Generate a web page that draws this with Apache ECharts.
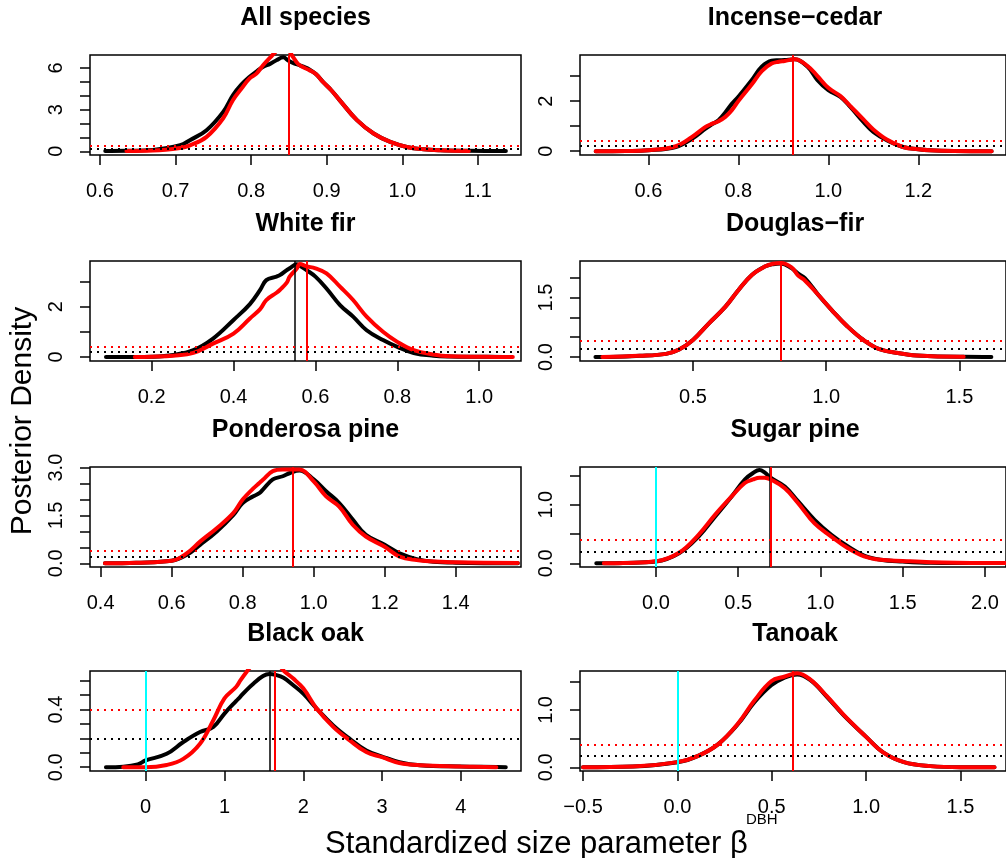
<!DOCTYPE html>
<html>
<head>
<meta charset="utf-8">
<script src="https://cdn.jsdelivr.net/npm/echarts@6/dist/echarts.min.js"></script>
<style>
	html, body { margin: 0; padding: 0; background: #fff; }
	#chart { width: 1006px; height: 858px; }
</style>
</head>
<body>
<div id="chart"></div>
<script>
// All species
let allX = [0.607, 0.635, 0.67, 0.706, 0.719, 0.741, 0.763, 0.776, 0.787, 0.798, 0.807, 0.816, 0.825, 0.834, 0.8425, 0.849, 0.856, 0.862, 0.869, 0.877, 0.886, 0.895, 0.906, 0.917, 0.94, 0.962, 0.984, 1.006, 1.028, 1.05, 1.088, 1.11, 1.137]
let allBlack = [0.02, 0.03, 0.1, 0.43, 0.8, 1.52, 2.84, 4.05, 4.8, 5.37, 5.75, 6.1, 6.3, 6.58, 6.77, 6.55, 6.35, 6.25, 6.1, 5.9, 5.55, 5.0, 4.4, 3.69, 2.24, 1.28, 0.67, 0.31, 0.14, 0.07, 0.03, 0.02, 0.02]
let allRed = [null, 0.02, 0.05, 0.24, 0.43, 1.04, 2.38, 3.7, 4.5, 5.25, 5.6, 6.22, 6.75, 7.25, 7.6, 7.3, 6.75, 6.3, 6.05, 5.85, 5.55, 5.0, 4.4, 3.69, 2.24, 1.28, 0.67, 0.31, 0.14, 0.07, 0.02, null, null]

// Incense-cedar
let cedarX = [0.483, 0.55, 0.60, 0.661, 0.697, 0.727, 0.742, 0.756, 0.771, 0.786, 0.80, 0.83, 0.852, 0.874, 0.89, 0.903, 0.925, 0.954, 0.976, 1.0, 1.027, 1.049, 1.078, 1.10, 1.13, 1.166, 1.20, 1.225, 1.28, 1.363]
let cedarBlack = [0.0, 0.01, 0.04, 0.17, 0.5, 0.9, 1.08, 1.24, 1.55, 1.9, 2.17, 2.84, 3.37, 3.61, 3.63, 3.64, 3.67, 3.37, 2.84, 2.44, 2.17, 1.77, 1.17, 0.77, 0.44, 0.17, 0.08, 0.04, 0.01, 0.0]
let cedarRed = [0.0, 0.01, 0.04, 0.2, 0.57, 0.97, 1.1, 1.2, 1.37, 1.65, 2.0, 2.67, 3.2, 3.5, 3.57, 3.6, 3.67, 3.4, 3.0, 2.53, 2.2, 1.8, 1.27, 0.87, 0.47, 0.17, 0.08, 0.04, 0.01, 0.0]

// White fir
let firX = [0.0885, 0.159, 0.2, 0.253, 0.302, 0.35, 0.40, 0.44, 0.465, 0.48, 0.505, 0.513, 0.53, 0.537, 0.554, 0.562, 0.578, 0.60, 0.627, 0.66, 0.692, 0.725, 0.765, 0.80, 0.84, 0.888, 0.928, 1.0, 1.06, 1.082]
let firBlack = [0.0, 0.0, 0.01, 0.08, 0.27, 0.73, 1.47, 2.1, 2.66, 3.05, 3.19, 3.25, 3.45, 3.52, 3.68, 3.62, 3.45, 3.19, 2.72, 2.06, 1.6, 1.06, 0.67, 0.4, 0.16, 0.05, 0.02, 0.01, 0.0, null]
let firRed = [null, 0.0, 0.01, 0.05, 0.16, 0.53, 0.93, 1.53, 1.9, 2.26, 2.55, 2.66, 2.95, 3.19, 3.5, 3.69, 3.6, 3.52, 3.32, 2.79, 2.26, 1.6, 1.0, 0.6, 0.27, 0.1, 0.03, 0.01, 0.0, 0.0]

// Douglas-fir
let dfX = [0.134, 0.16, 0.3, 0.399, 0.448, 0.50, 0.56, 0.622, 0.671, 0.721, 0.77, 0.80, 0.83, 0.87, 0.895, 0.92, 0.97, 1.02, 1.08, 1.14, 1.20, 1.27, 1.34, 1.50, 1.516, 1.62]
let dfBlack = [0.0, 0.0, 0.03, 0.08, 0.19, 0.43, 0.85, 1.27, 1.69, 2.07, 2.28, 2.34, 2.36, 2.24, 2.1, 1.99, 1.57, 1.19, 0.77, 0.43, 0.2, 0.1, 0.04, 0.01, 0.01, 0.0]
let dfRed = [null, 0.0, 0.03, 0.08, 0.19, 0.43, 0.85, 1.27, 1.69, 2.07, 2.28, 2.35, 2.37, 2.26, 2.05, 1.93, 1.57, 1.19, 0.77, 0.43, 0.2, 0.1, 0.04, 0.01, 0.01, null]

// Ponderosa pine
let ppX = [0.412, 0.50, 0.60, 0.642, 0.68, 0.727, 0.774, 0.80, 0.83, 0.847, 0.857, 0.885, 0.913, 0.935, 0.96, 1.0, 1.035, 1.072, 1.11, 1.147, 1.20, 1.242, 1.29, 1.337, 1.40, 1.575]
let ppBlack = [0.0, 0.02, 0.08, 0.26, 0.58, 1.0, 1.52, 1.89, 2.1, 2.2, 2.31, 2.63, 2.73, 2.84, 2.91, 2.63, 2.26, 1.89, 1.37, 0.89, 0.58, 0.31, 0.13, 0.05, 0.02, 0.0]
let ppRed = [0.0, 0.02, 0.08, 0.31, 0.68, 1.1, 1.58, 2.0, 2.35, 2.52, 2.62, 2.89, 2.94, 2.94, 2.94, 2.57, 2.1, 1.78, 1.21, 0.84, 0.52, 0.21, 0.1, 0.06, 0.03, 0.01]

// Sugar pine
let spX = [-0.363, -0.317, -0.2, 0.0, 0.14, 0.26, 0.36, 0.46, 0.54, 0.59, 0.629, 0.66, 0.697, 0.783, 0.863, 0.964, 1.064, 1.165, 1.265, 1.365, 1.50, 1.67, 2.0, 2.2]
let spBlack = [0.0, 0.0, 0.005, 0.03, 0.17, 0.46, 0.8, 1.14, 1.43, 1.54, 1.59, 1.55, 1.46, 1.31, 1.06, 0.74, 0.49, 0.29, 0.13, 0.06, 0.03, 0.01, 0.005, null]
let spRed = [null, 0.0, 0.006, 0.034, 0.18, 0.49, 0.83, 1.14, 1.37, 1.43, 1.46, 1.46, 1.43, 1.28, 1.03, 0.68, 0.46, 0.26, 0.12, 0.06, 0.04, 0.02, 0.005, 0.003]

// Black oak
let boX = [-0.504, -0.284, -0.1, 0.0, 0.267, 0.478, 0.69, 0.859, 1.0, 1.15, 1.2, 1.28, 1.37, 1.49, 1.57, 1.65, 1.75, 1.87, 2.0, 2.17, 2.38, 2.59, 2.8, 3.0, 3.22, 3.48, 4.0, 4.45, 4.57]
let boBlack = [0.0, 0.004, 0.02, 0.047, 0.093, 0.175, 0.244, 0.279, 0.372, 0.46, 0.488, 0.535, 0.581, 0.632, 0.646, 0.64, 0.62, 0.57, 0.51, 0.407, 0.29, 0.197, 0.116, 0.074, 0.035, 0.014, 0.005, 0.002, 0.0]
let boRed = [null, 0.0, 0.0, 0.0, 0.016, 0.058, 0.163, 0.326, 0.477, 0.558, 0.6, 0.66, 0.72, 0.77, 0.77, 0.74, 0.67, 0.616, 0.547, 0.407, 0.28, 0.186, 0.105, 0.07, 0.03, 0.014, 0.005, 0.0, null]

// Tanoak
let toX = [-0.5, -0.236, 0.0, 0.11, 0.215, 0.32, 0.407, 0.497, 0.565, 0.635, 0.705, 0.792, 0.88, 1.0, 1.09, 1.2, 1.34, 1.5, 1.68]
let toBlack = [0.0, 0.012, 0.087, 0.2, 0.4, 0.75, 1.13, 1.43, 1.56, 1.62, 1.52, 1.23, 0.91, 0.53, 0.26, 0.09, 0.02, 0.0, 0.0]
let toRed = [0.0, 0.012, 0.09, 0.2, 0.4, 0.76, 1.16, 1.5, 1.58, 1.64, 1.53, 1.24, 0.92, 0.53, 0.26, 0.09, 0.02, 0.0, 0.0]

// tick positions and labelled ticks
let allXTicks = [0.6, 0.7, 0.8, 0.9, 1.0, 1.1]
let cedarXTicks = [0.6, 0.8, 1.0, 1.2]
let firXTicks = [0.2, 0.4, 0.6, 0.8, 1.0]
let dfXTicks = [0.5, 1.0, 1.5]
let ppXTicks = [0.4, 0.6, 0.8, 1.0, 1.2, 1.4]
let spXTicks = [0.0, 0.5, 1.0, 1.5, 2.0]
let boXTicks = [0, 1, 2, 3, 4]
let toXTicks = [-0.5, 0.0, 0.5, 1.0, 1.5]

let allYTicks = [0, 1, 2, 3, 4, 5, 6], allYLabels = [0, 3, 6]
let cedarYTicks = [0, 1, 2, 3], cedarYLabels = [0, 2]
let firYTicks = [0, 1, 2, 3], firYLabels = [0, 2]
let dfYTicks = [0, 0.5, 1, 1.5, 2], dfYLabels = [0, 1.5]
let ppYTicks = [0, 0.5, 1, 1.5, 2, 2.5, 3], ppYLabels = [0, 1.5, 3]
let spYTicks = [0, 0.5, 1, 1.5], spYLabels = [0, 1]
let boYTicks = [0, 0.1, 0.2, 0.3, 0.4, 0.5, 0.6], boYLabels = [0, 0.4]
let toYTicks = [0, 0.5, 1, 1.5], toYLabels = [0, 1]

// posterior means (black, red) and the prior reference lines
let meanBlack = [0.8478, 0.9165, 0.5546, 0.83, 0.936, 0.69, 1.569, 0.61]
let meanRed = [0.8527, 0.919, 0.585, 0.83, 0.936, 0.696, 1.637, 0.61]
let hasZeroLine = [false, false, false, false, false, true, true, true]
let priorBlack = 0.2
let priorRed = 0.4

let font = "'Liberation Sans', Arial, Helvetica, sans-serif"

let panels = [
	{ title: "All species", x: allX, black: allBlack, red: allRed, xt: allXTicks, yt: allYTicks, yl: allYLabels, xlim: [0.5868, 1.157], ylim: [-0.27, 6.94], yd: 0 },
	{ title: "Incense\u2212cedar", x: cedarX, black: cedarBlack, red: cedarRed, xt: cedarXTicks, yt: cedarYTicks, yl: cedarYLabels, xlim: [0.448, 1.395], ylim: [-0.15, 3.84], yd: 0 },
	{ title: "White fir", x: firX, black: firBlack, red: firRed, xt: firXTicks, yt: firYTicks, yl: firYLabels, xlim: [0.0495, 1.102], ylim: [-0.16, 3.81], yd: 0 },
	{ title: "Douglas\u2212fir", x: dfX, black: dfBlack, red: dfRed, xt: dfXTicks, yt: dfYTicks, yl: dfYLabels, xlim: [0.076, 1.675], ylim: [-0.1, 2.42], yd: 1 },
	{ title: "Ponderosa pine", x: ppX, black: ppBlack, red: ppRed, xt: ppXTicks, yt: ppYTicks, yl: ppYLabels, xlim: [0.37, 1.584], ylim: [-0.116, 3.02], yd: 1 },
	{ title: "Sugar pine", x: spX, black: spBlack, red: spRed, xt: spXTicks, yt: spYTicks, yl: spYLabels, xlim: [-0.462, 2.128], ylim: [-0.063, 1.643], yd: 1 },
	{ title: "Black oak", x: boX, black: boBlack, red: boRed, xt: boXTicks, yt: boYTicks, yl: boYLabels, xlim: [-0.706, 4.763], ylim: [-0.026, 0.667], yd: 1 },
	{ title: "Tanoak", x: toX, black: toBlack, red: toRed, xt: toXTicks, yt: toYTicks, yl: toYLabels, xlim: [-0.516, 1.741], ylim: [-0.065, 1.68], yd: 1 }
]

let colLeft = [90, 580]
let colWidth = [431, 430]
let rowTop = [55, 261, 467, 671]
let boxHeight = 100

function pairs(xs, ys) {
	return xs.map(function (x, i) {
		return [x, ys[i]]
	}).filter(function (p) {
		return p[1] !== null
	})
}

function xFormat(ticks) {
	let step = ticks[1] - ticks[0]
	let dec = step >= 1 ? 0 : 1
	return function (v) {
		return (Math.abs(v) < 1e-9 ? 0 : v).toFixed(dec).replace("-", "\u2212")
	}
}

let grids = [], xAxes = [], yAxes = [], series = [], graphics = []

panels.forEach(function (p, i) {
	let col = i % 2
	let row = Math.floor(i / 2)
	grids.push({
		left: colLeft[col], top: rowTop[row], width: colWidth[col], height: boxHeight,
		show: true, borderColor: "#000", borderWidth: 1.5, backgroundColor: "transparent"
	})
	xAxes.push({
		gridIndex: i, type: "value", min: p.xlim[0], max: p.xlim[1], position: "bottom",
		axisLine: { show: false, onZero: false },
		splitLine: { show: false },
		axisTick: { show: true, customValues: p.xt, length: 10, lineStyle: { color: "#000", width: 1.5 } },
		axisLabel: { customValues: p.xt, formatter: xFormat(p.xt), fontSize: 20, color: "#000", margin: 26, fontFamily: font }
	})
	yAxes.push({
		gridIndex: i, type: "value", min: p.ylim[0], max: p.ylim[1], position: "left",
		axisLine: { show: false, onZero: false },
		splitLine: { show: false },
		axisTick: { show: true, customValues: p.yt, length: 10, lineStyle: { color: "#000", width: 1.5 } },
		axisLabel: {
			customValues: p.yl, rotate: 90, fontSize: 20, color: "#000", margin: 24, fontFamily: font,
			formatter: function (v) { return v.toFixed(p.yd) }
		}
	})
	series.push({
		type: "line", xAxisIndex: i, yAxisIndex: i, data: pairs(p.x, p.black),
		symbol: "none", smooth: 0.4, z: 2,
		lineStyle: { color: "#000", width: 4, cap: "round" }
	})
	series.push({
		type: "line", xAxisIndex: i, yAxisIndex: i, data: pairs(p.x, p.red),
		symbol: "none", smooth: 0.4, z: 3,
		lineStyle: { color: "#ff0000", width: 4, cap: "round" }
	})
	let marks = [
		{ xAxis: meanBlack[i], lineStyle: { color: "#000", width: 1.5, type: "solid" } },
		{ xAxis: meanRed[i], lineStyle: { color: "#ff0000", width: 2, type: "solid" } },
		{ yAxis: priorBlack, lineStyle: { color: "#000", width: 2, type: [2, 5] } },
		{ yAxis: priorRed, lineStyle: { color: "#ff0000", width: 2, type: [2, 5] } }
	]
	if (hasZeroLine[i]) {
		marks.push({ xAxis: 0, lineStyle: { color: "#00ffff", width: 2, type: "solid" } })
	}
	series.push({
		type: "line", xAxisIndex: i, yAxisIndex: i, data: [], z: 4,
		markLine: { silent: true, symbol: ["none", "none"], label: { show: false }, animation: false, data: marks }
	})
	graphics.push({
		type: "text", x: colLeft[col] + colWidth[col] / 2, y: rowTop[row] - 37,
		style: { text: p.title, font: "bold 25px " + font, fill: "#000", textAlign: "center", textVerticalAlign: "middle" }
	})
})

graphics.push({
	type: "text", x: 23, y: 421, rotation: Math.PI / 2,
	style: { text: "Posterior Density", font: "30px " + font, fill: "#000", textAlign: "center", textVerticalAlign: "middle" }
})
graphics.push({
	type: "text", x: 325, y: 844,
	style: { text: "Standardized size parameter \u03b2", font: "31px " + font, fill: "#000", textAlign: "left", textVerticalAlign: "middle" }
})
graphics.push({
	type: "text", x: 746, y: 820,
	style: { text: "DBH", font: "15px " + font, fill: "#000", textAlign: "left", textVerticalAlign: "middle" }
})

let chart = echarts.init(document.getElementById("chart"))
chart.setOption({
	animation: false,
	backgroundColor: "#fff",
	grid: grids,
	xAxis: xAxes,
	yAxis: yAxes,
	series: series,
	graphic: graphics
})
</script>
</body>
</html>
